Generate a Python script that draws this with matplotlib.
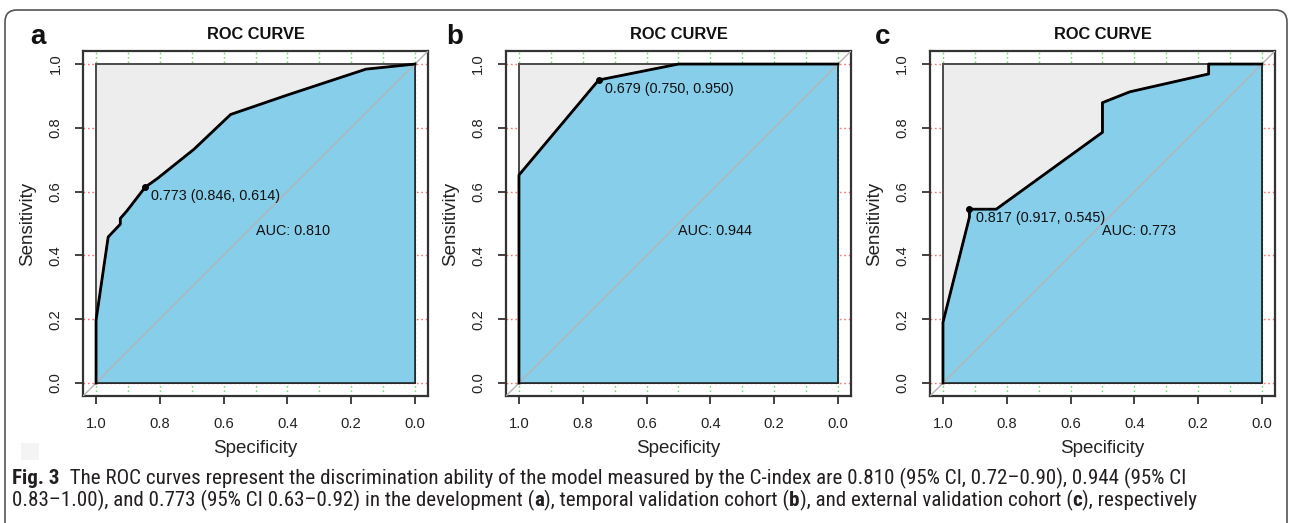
import matplotlib
matplotlib.use("Agg")
import matplotlib.pyplot as plt
from matplotlib import font_manager
from matplotlib.patches import FancyBboxPatch, Rectangle, Polygon
from matplotlib.transforms import IdentityTransform

# ---- data ----
panel_letters = ["a", "b", "c"]

a_spec = [1.0, 1.0, 0.962, 0.924, 0.924, 0.903, 0.846, 0.808, 0.693, 0.578, 0.400, 0.154, 0.0]
a_sens = [0.0, 0.197, 0.458, 0.498, 0.516, 0.540, 0.614, 0.641, 0.733, 0.842, 0.903, 0.984, 1.0]

b_spec = [1.0, 1.0, 0.750, 0.500, 0.0]
b_sens = [0.0, 0.652, 0.950, 1.0, 1.0]

c_spec = [1.0, 1.0, 0.917, 0.917, 0.833, 0.500, 0.500, 0.414, 0.167, 0.167, 0.0]
c_sens = [0.0, 0.190, 0.520, 0.545, 0.545, 0.786, 0.879, 0.913, 0.969, 1.0, 1.0]

best_thr = ["0.773", "0.679", "0.817"]
best_spec = [0.846, 0.750, 0.917]
best_sens = [0.614, 0.950, 0.545]
auc_vals = [0.810, 0.944, 0.773]

tick_vals = [0.0, 0.2, 0.4, 0.6, 0.8, 1.0]

caption_line1 = [("Fig. 3", True),
                 ("  The ROC curves represent the discrimination ability of the model measured by "
                  "the C-index are 0.810 (95% CI, 0.72\u20130.90), 0.944 (95% CI", False)]
caption_line2 = [("0.83\u20131.00), and 0.773 (95% CI 0.63\u20130.92) in the development (", False),
                 ("a", True), ("), temporal validation cohort (", False), ("b", True),
                 ("), and external validation cohort (", False), ("c", True),
                 ("), respectively", False)]

curves = [(a_spec, a_sens), (b_spec, b_sens), (c_spec, c_sens)]


def pick_font(names):
    for n in names:
        try:
            font_manager.findfont(font_manager.FontProperties(family=n), fallback_to_default=False)
            return n
        except ValueError:
            pass
    return "DejaVu Sans"


plot_font = pick_font(["Liberation Sans", "Arial", "DejaVu Sans"])
cap_font = pick_font(["Roboto Condensed", "Liberation Sans Narrow", "Lato", "Open Sans"])
plt.rcParams["font.family"] = plot_font

W, H = 1290, 523
fig = plt.figure(figsize=(W / 100, H / 100), dpi=100)

# rounded frame around the whole figure
frame = FancyBboxPatch((5, -30), 1282, 513 + 30, boxstyle="round,pad=0,rounding_size=12",
                       transform=IdentityTransform(), facecolor="none", edgecolor="#555555",
                       linewidth=1.2)
fig.patches.append(frame)
fig.patches.append(Rectangle((21, 63), 18, 17, transform=IdentityTransform(),
                             facecolor="#f4f4f4", edgecolor="none"))

# left edges of the plot boxes (pixels) and shared vertical extent
box_left = [83.3, 506.2, 930.2]
box_w, box_h = 344.5, 344.5
box_bottom = H - 395.8

green = "#66e066"
red = "#ff7070"

for i, (spec, sens) in enumerate(curves):
    ax = fig.add_axes([box_left[i] / W, box_bottom / H, box_w / W, box_h / H])
    ax.set_xlim(1.04, -0.04)
    ax.set_ylim(-0.04, 1.04)

    # grid (only shows in the margins)
    for g in [k / 10 for k in range(11)]:
        ax.axvline(g, color=green, lw=1.0, ls=(0, (1.2, 2)), zorder=0)
    for g in tick_vals:
        ax.axhline(g, color=red, lw=1.0, ls=(0, (1.2, 2)), zorder=0)

    ax.add_patch(Polygon([(1, 0), (1, 1), (0, 1), (0, 0)], closed=True,
                         facecolor="#ededed", edgecolor="#4a4a4a", lw=1.4, zorder=1))
    ax.add_patch(Polygon(list(zip(spec, sens)) + [(0, 0)], closed=True,
                         facecolor="#87ceeb", edgecolor="#222222", lw=1.2, zorder=2))
    ax.plot([1.04, -0.04], [-0.04, 1.04], color="#b4b4b4", lw=1.0, zorder=3)
    ax.plot(spec, sens, color="black", lw=2.0, zorder=4, solid_joinstyle="round")
    ax.plot([best_spec[i]], [best_sens[i]], "o", color="black", ms=4, zorder=5)

    ax.annotate(f"{best_thr[i]} ({best_spec[i]:.3f}, {best_sens[i]:.3f})",
                (best_spec[i], best_sens[i]), xytext=(4.5, -1.5), textcoords="offset points",
                ha="left", va="top", fontsize=10.4, color="#111111", zorder=6)
    ax.text(0.5, 0.5, f"AUC: {auc_vals[i]:.3f}", ha="left", va="top",
            fontsize=10.4, color="#111111", zorder=6)

    ax.set_xticks(tick_vals)
    ax.set_xticklabels([f"{v:.1f}" for v in tick_vals])
    ax.set_yticks(tick_vals)
    ax.set_yticklabels([f"{v:.1f}" for v in tick_vals], rotation=90, va="center")
    ax.tick_params(direction="out", length=6, width=1.2, colors="#222222",
                   labelsize=10.6, pad=9, labelcolor="#222222")
    for s in ax.spines.values():
        s.set_linewidth(1.6)
        s.set_color("#333333")

    ax.set_xlabel("Specificity", fontsize=13.5, labelpad=7, color="#222222")
    ax.set_ylabel("Sensitivity", fontsize=13.5, labelpad=9, color="#222222")
    ax.set_title("ROC CURVE", fontsize=11.8, fontweight="bold", pad=9, color="#111111")

letter_x = [38, 455, 883]
for lx, letter in zip(letter_x, panel_letters):
    fig.text(lx / W, 1 - 37 / H, letter, fontsize=20, fontweight="bold",
             ha="center", va="center", color="#111111")

# caption, drawn run by run so bold pieces sit inline
renderer = fig.canvas.get_renderer()


def run_width(runs, size):
    total = 0
    for txt, bold in runs:
        t = fig.text(0, 0, txt, fontsize=size, family=[cap_font, "DejaVu Sans"],
                     fontweight="bold" if bold else "normal")
        total += t.get_window_extent(renderer).width
        t.remove()
    return total


# compromise size: fit both line lengths of the original on average
fit1 = 10 * (1152 - 12) / run_width(caption_line1, 10)
fit2 = 10 * (1221 - 12) / run_width(caption_line2, 10)
cap_size = (fit1 + fit2) / 2


def draw_runs(x, y_base, runs):
    for txt, bold in runs:
        t = fig.text(x / W, 1 - y_base / H, txt, fontsize=cap_size,
                     family=[cap_font, "DejaVu Sans"], va="baseline",
                     fontweight="bold" if bold else "normal", color="#231f20")
        x += t.get_window_extent(renderer).width


draw_runs(12, 484, caption_line1)
draw_runs(12, 506, caption_line2)

fig.savefig("out.png", dpi=100)
